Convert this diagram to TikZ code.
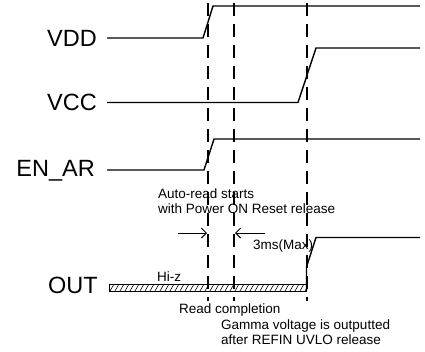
\documentclass[tikz,border=0pt]{standalone}
\usepackage{fontspec}
\setmainfont{Liberation Sans}
\usetikzlibrary{arrows.meta}
\begin{document}
\begin{tikzpicture}[x=1pt,y=-1pt,
  sig/.style={line width=1.4pt, line join=miter},
  guide/.style={line width=1.3pt, dash pattern=on 13pt off 8pt},
  biglabel/.style={font=\fontsize{23.5}{28}\selectfont, inner sep=0pt, anchor=base east},
  note/.style={font=\fontsize{13.5}{16}\selectfont, inner sep=0pt, anchor=base west},
  dimarrow/.style={line width=0.9pt, -{Straight Barb[length=5pt,width=10pt]}},
  hatch/.style={line width=0.6pt}]
\useasboundingbox (0,0) rectangle (425,351);

% labels
\node[biglabel] (lvdd) at (97,46) {VDD};
\node[biglabel] (lvcc) at (97,110.5) {VCC};
\node[biglabel] (len) at (95,176.5) {EN\_AR};
\node[biglabel] (lout) at (98,293) {OUT};

% guide lines
\coordinate (g1t) at (208,3);  \coordinate (g1b) at (208,301);
\coordinate (g2t) at (234,3);  \coordinate (g2b) at (234,301);
\coordinate (g3t) at (307,3);  \coordinate (g3b) at (307,301);
\draw[guide] (g1t) -- (g1b);
\draw[guide] (g2t) -- (g2b);
\draw[guide] (g3t) -- (g3b);

% VDD
\coordinate (vdd0) at (107,38);
\coordinate (vdd1) at (203,38);
\coordinate (vdd2) at (213,6);
\coordinate (vdd3) at (420,6);
\draw[sig] (vdd0) -- (vdd1) -- (vdd2) -- (vdd3);

% VCC
\coordinate (vcc0) at (107,102.5);
\coordinate (vcc1) at (298,102.5);
\coordinate (vcc2) at (316,48);
\coordinate (vcc3) at (420,48);
\draw[sig] (vcc0) -- (vcc1) -- (vcc2) -- (vcc3);

% EN_AR
\coordinate (en0) at (107,170);
\coordinate (en1) at (204,170);
\coordinate (en2) at (214,139);
\coordinate (en3) at (420,139);
\draw[sig] (en0) -- (en1) -- (en2) -- (en3);

% OUT
\begin{scope}
  \clip (109,284) rectangle (306,291);
  \foreach \x in {100,105,...,315} \draw[hatch] (\x,291) -- (\x+4,284);
\end{scope}
\node[draw, line width=0.9pt, inner sep=0pt, minimum width=197pt, minimum height=7pt, anchor=north west] (bar) at (109,284) {};
\coordinate (out0) at (306.5,291);
\coordinate (out1) at (306.5,267);
\coordinate (out2) at (316,237.5);
\coordinate (out3) at (420,237.5);
\draw[sig] (out0) -- (out1) -- (out2) -- (out3);

% dimension arrows
\coordinate (a1s) at (178,233); \coordinate (a1e) at (207,233);
\coordinate (a2s) at (265,233); \coordinate (a2e) at (235,233);
\draw[dimarrow] (a1s) -- (a1e);
\draw[dimarrow] (a2s) -- (a2e);

% notes
\node[note] (t1) at (158,198) {Auto-read starts};
\node[note] (t2) at (158,213.5) {with Power ON Reset release};
\node[note] (t3) at (253,249) {3ms(Max)};
\node[note] (t4) at (157,281) {Hi-z};
\node[note] (t5) at (179,313.5) {Read completion};
\node[note] (t6) at (221,329) {Gamma voltage is outputted};
\node[note] (t7) at (221,344.5) {after REFIN UVLO release};
\end{tikzpicture}
\end{document}
